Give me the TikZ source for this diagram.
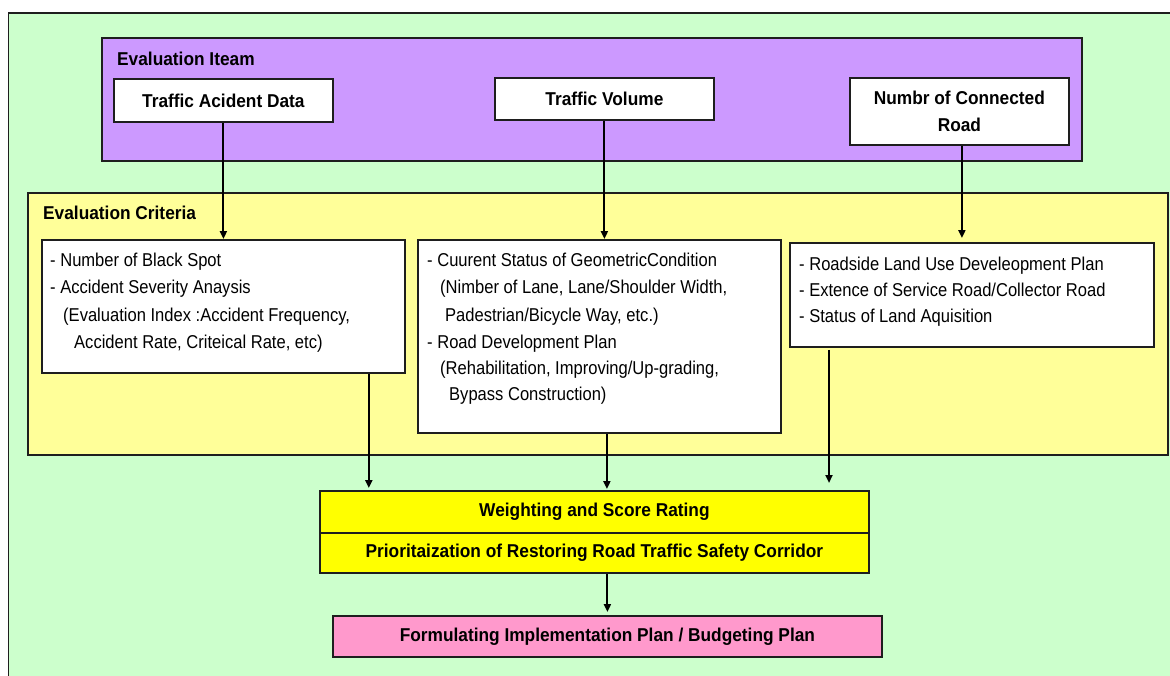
\documentclass[tikz,border=0pt]{standalone}
\usepackage{fontspec}
\setmainfont{Liberation Sans}
\newfontfamily\headfont[FakeStretch=0.93]{Liberation Sans}
\newfontfamily\bodyfont[FakeStretch=0.89]{Liberation Sans}
\usetikzlibrary{arrows.meta}

\definecolor{edge}{HTML}{1E1E1E}
\definecolor{bgGreen}{HTML}{CCFFCC}
\definecolor{itemPurple}{HTML}{CC99FF}
\definecolor{critYellow}{HTML}{FFFF99}
\definecolor{rateYellow}{HTML}{FFFF00}
\definecolor{planPink}{HTML}{FF99CC}

\tikzset{
  panel/.style={rectangle, draw=edge, line width=1.8pt, inner sep=0pt, anchor=north west},
  headtxt/.style={font=\headfont\bfseries\fontsize{18.6}{27}\selectfont, align=center},
  caption/.style={anchor=base west, inner sep=0pt, font=\headfont\bfseries\fontsize{18.6}{22}\selectfont},
  bodyline/.style={anchor=base west, inner sep=0pt, font=\bodyfont\fontsize{18.6}{22}\selectfont},
  arr/.style={draw=black, line width=2pt, -{Triangle[length=8pt,width=7pt]}}
}

\begin{document}
\begin{tikzpicture}[x=1pt,y=-1pt]
\useasboundingbox (0,0) rectangle (1170,675);
\clip (0,0) rectangle (1170,675);
\fill[white] (0,0) rectangle (1170,675);

% outer frame
\node[panel, fill=bgGreen, minimum width=1200, minimum height=700] (frame) at (7.5,12) {};

% evaluation items
\node[panel, fill=itemPurple, minimum width=980, minimum height=123] (items) at (101,37) {};
\node[caption] (itemsTitle) at (117,65) {Evaluation Iteam};
\node[panel, fill=white, minimum width=219, minimum height=43, headtxt] (tad) at (113,78) {Traffic Acident Data};
\node[panel, fill=white, minimum width=219, minimum height=42, headtxt] (tv) at (494,77) {Traffic Volume};
\node[panel, fill=white, minimum width=219, minimum height=67, headtxt] (ncr) at (849,77) {Numbr of Connected\\Road};

% evaluation criteria
\node[panel, fill=critYellow, minimum width=1140, minimum height=262] (crit) at (27,192) {};
\node[caption] (critTitle) at (43,219) {Evaluation Criteria};
\node[panel, fill=white, minimum width=363, minimum height=133] (lbox) at (41,239) {};
\node[panel, fill=white, minimum width=363, minimum height=193] (mbox) at (417,239) {};
\node[panel, fill=white, minimum width=364, minimum height=104] (rbox) at (789,242) {};

\node[bodyline] (l1) at (50,266) {- Number of Black Spot};
\node[bodyline] (l2) at (50,293) {- Accident Severity Anaysis};
\node[bodyline] (l3) at (63,321) {(Evaluation Index :Accident Frequency,};
\node[bodyline] (l4) at (74,348) {Accident Rate, Criteical Rate, etc)};

\node[bodyline] (m1) at (427,266) {- Cuurent Status of GeometricCondition};
\node[bodyline] (m2) at (440,293) {(Nimber of Lane, Lane/Shoulder Width,};
\node[bodyline] (m3) at (445,321) {Padestrian/Bicycle Way, etc.)};
\node[bodyline] (m4) at (427,348) {- Road Development Plan};
\node[bodyline] (m5) at (440,374) {(Rehabilitation, Improving/Up-grading,};
\node[bodyline] (m6) at (449,400) {Bypass Construction)};

\node[bodyline] (r1) at (799,270) {- Roadside Land Use Develeopment Plan};
\node[bodyline] (r2) at (799,296) {- Extence of Service Road/Collector Road};
\node[bodyline] (r3) at (799,322) {- Status of Land Aquisition};

% rating and plan
\node[panel, fill=rateYellow, minimum width=549, minimum height=42, headtxt] (wsr1) at (319,490) {Weighting and Score Rating};
\node[panel, fill=rateYellow, minimum width=549, minimum height=40, headtxt] (wsr2) at (319,532) {Prioritaization of Restoring Road Traffic Safety Corridor};
\node[panel, fill=planPink, minimum width=549, minimum height=41, headtxt] (plan) at (332,615) {Formulating Implementation Plan / Budgeting Plan};

% connectors
\draw[arr] (tad.south) -- (tad.south |- lbox.north);
\draw[arr] (tv.south) -- (tv.south |- mbox.north);
\draw[arr] ([xshift=2.5pt]ncr.south) -- ([xshift=2.5pt,yshift=4pt]ncr.south |- rbox.north);
\draw[arr] ([xshift=-37pt]lbox.south east) -- ([xshift=-37pt,yshift=2pt]lbox.south east |- wsr1.north);
\draw[arr] ([xshift=7.5pt]mbox.south) -- ([xshift=7.5pt,yshift=1pt]mbox.south |- wsr1.north);
\draw[arr] ([xshift=40pt,yshift=-2pt]rbox.south west) -- ([xshift=40pt,yshift=7pt]rbox.south west |- wsr1.north);
\draw[arr] (plan.north |- wsr2.south) -- ([yshift=3pt]plan.north);
\end{tikzpicture}
\end{document}
